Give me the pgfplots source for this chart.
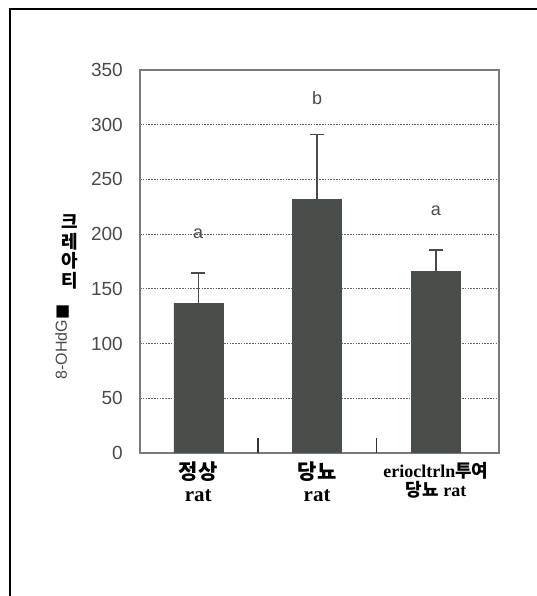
\documentclass[border=0pt]{standalone}
\usepackage{fontspec}
\setmainfont{Liberation Serif}
\newfontfamily\kr{Noto Sans CJK KR}
\newfontfamily\sans{Liberation Sans}
\newfontfamily\dv{DejaVu Sans}
\usepackage{pgfplots}
\pgfplotsset{compat=1.18}
\definecolor{barc}{HTML}{4A4E4A}
\definecolor{axc}{HTML}{7A7A7A}
\definecolor{txc}{HTML}{4A4A4A}
\begin{document}
\begin{tikzpicture}[x=1pt,y=1pt]
\path[use as bounding box] (0,0) rectangle (537,596);
\draw[line width=2.5pt] (10,0) -- (10,587) -- (537,587);
\begin{axis}[at={(140pt,143pt)}, anchor=south west, width=359pt, height=383pt, scale only axis,
  xmin=-0.49, xmax=2.53, ymin=0, ymax=350,
  axis line style={axc, line width=1.3pt},
  ytick={0,50,...,350}, ymajorgrids,
  grid style={black!60, line width=1.2pt, dash pattern=on 1.6pt off 1.2pt},
  major tick length=0pt,
  xtick pos=bottom, ytick pos=left,
  /pgf/number format/assume math mode=true,
  yticklabel style={font=\sans\fontsize{19}{19}\selectfont, text=txc, inner sep=0pt, xshift=-17pt},
  xtick={0,1,2},
  xticklabels={{\kr\bfseries 정상}\\rat, {\kr\bfseries 당뇨}\\rat, {\fontsize{18}{18}\selectfont eriocltrln{\kr\bfseries 투여}}\\[-3pt]{\fontsize{18}{18}\selectfont{\kr\bfseries 당뇨} rat}},
  xticklabel style={font=\bfseries\fontsize{21}{22}\selectfont, align=center, anchor=north, inner sep=0pt, yshift=-9pt},
  extra x ticks={0.5,1.5}, extra x tick labels={},
  extra x tick style={major tick length=15pt, tick align=inside, tick style={black!80, line width=1.8pt}},
]
\addplot[ybar, bar width=49pt, fill=barc, draw=barc,
  error bars/.cd, y dir=plus, y explicit,
  error bar style={txc, line width=1.5pt},
  error mark options={rotate=90, mark size=7pt, line width=1.5pt, txc}]
  coordinates {(0,137) +- (0,27.5) (1,231.5) +- (0,59.5) (2,166) +- (0,19.7)};
\node[font=\sans\fontsize{18}{18}\selectfont, text=txc] at (axis cs:0,200) {a};
\node[font=\sans\fontsize{18}{18}\selectfont, text=txc] at (axis cs:1,324) {b};
\node[font=\sans\fontsize{18}{18}\selectfont, text=txc] at (axis cs:2,221) {a};
\end{axis}
\node[font=\kr\bfseries\fontsize{18}{19.5}\selectfont, align=center, inner sep=0pt] at (70,344) {크\\레\\아\\티};
\node[font=\sans\fontsize{16}{16}\selectfont, text=txc, rotate=90, inner sep=0pt] at (62,254) {8-OHdG{\dv\color{black}■}};
\end{tikzpicture}
\end{document}
